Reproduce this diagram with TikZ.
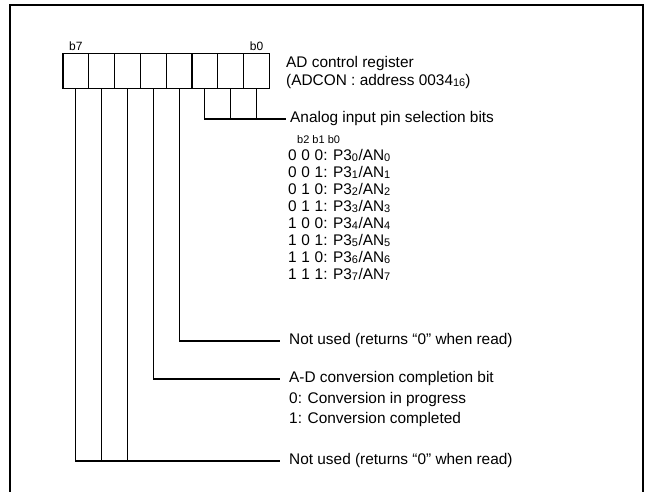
\documentclass[tikz,border=0pt]{standalone}
\usepackage{fontspec}
\setmainfont{Liberation Sans}
\usetikzlibrary{calc,positioning}
\newcommand\sbs[1]{\raisebox{-0.8pt}{\fontsize{11}{12}\selectfont #1}}

\begin{document}
\begin{tikzpicture}[x=1pt, y=-1pt,
  cell/.style={draw, line width=1.1pt, minimum width=25.8pt, minimum height=35.5pt, inner sep=0pt},
  lbl/.style={anchor=west, inner sep=0pt, font=\fontsize{15.4}{17}\selectfont, text height=11pt, text depth=3.5pt},
  tiny/.style={inner sep=0pt, font=\fontsize{11}{12}\selectfont},
  wire/.style={line width=1.1pt},
  frame/.style={line width=2pt}]
\useasboundingbox (0,0) rectangle (646,492);
\draw[frame] (10,492) -- (10,5) -- (643,5) -- (643,492);
% register cells, c7 on the left
\foreach \k in {0,...,7}
  \node[cell] (c\k) at ({269.4-25.8*(\k+0.5)}, 71) {};
\node[tiny, font=\fontsize{12}{13}\selectfont, above=2pt of c7] (b7) {b7};
\node[tiny, font=\fontsize{12}{13}\selectfont, above=2pt of c0] (b0) {b0};
% texts
\node[lbl] (reg) at (286,64) {AD control register};
\node[lbl] (adr) at (286,82) {(ADCON : address 0034\sbs{16})};
\node[lbl] (sel) at (290,119) {Analog input pin selection bits};
\node[tiny, anchor=west] (hdr) at (297,140) {b2 b1 b0};
\foreach \p/\q/\r [count=\n from 0] in {0/0/0,0/0/1,0/1/0,0/1/1,1/0/0,1/0/1,1/1/0,1/1/1}
  \node[lbl] (row\n) at (288,{156.5+17.1*\n}) {\p\hspace{4.7pt}\q\hspace{4.7pt}\r:\hspace{5.5pt}P3\sbs{\n}\hspace{0.5pt}/AN\sbs{\n}};
\node[lbl] (nu1) at (289,341) {Not used (returns “0” when read)};
\node[lbl] (adc) at (289,379) {A-D conversion completion bit};
\node[lbl] (adc0) at (289,399.5) {0: Conversion in progress};
\node[lbl] (adc1) at (289,420) {1: Conversion completed};
\node[lbl] (nu2) at (289,461) {Not used (returns “0” when read)};
% connectors
\draw[wire] (c2.south) |- ([xshift=-4pt]sel.west);
\draw[wire] (c1.south) -- (c1.south |- sel.west);
\draw[wire] (c0.south) -- (c0.south |- sel.west);
\draw[wire] (c3.south) |- ([xshift=-9pt]nu1.west);
\draw[wire] (c4.south) |- ([xshift=-9pt]adc.west);
\draw[wire] (c7.south) |- ([xshift=-9pt]nu2.west);
\draw[wire] (c6.south) -- (c6.south |- nu2.west);
\draw[wire] (c5.south) -- (c5.south |- nu2.west);
\end{tikzpicture}
\end{document}
